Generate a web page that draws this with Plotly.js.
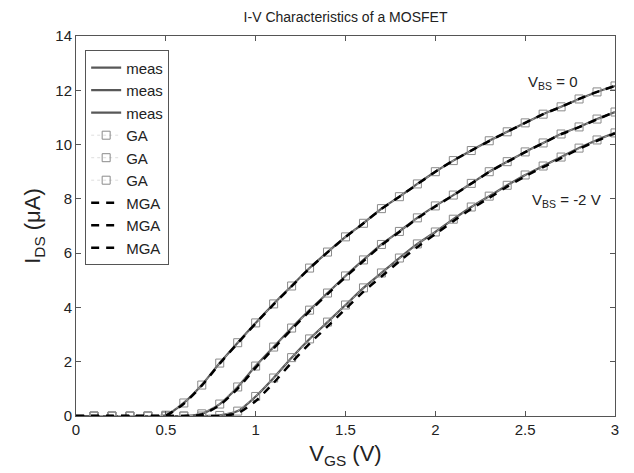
<!DOCTYPE html>
<html>
<head>
<meta charset="utf-8">
<script src="https://cdn.plot.ly/plotly-3.0.1.min.js"></script>
<style>html,body{margin:0;padding:0;background:#fff;}#chart{width:634px;height:473px;}</style>
</head>
<body>
<div id="chart"></div>
<script>
// Gate voltage (V)
var vgs = [0,0.1,0.2,0.3,0.4,0.5,0.6,0.7,0.8,0.9,1.0,1.1,1.2,1.3,1.4,1.5,1.6,1.7,1.8,1.9,2.0,2.1,2.2,2.3,2.4,2.5,2.6,2.7,2.8,2.9,3.0];

// Measured drain current (uA) for three body biases
var measVbs0  = [0,0,0,0,0,0.03,0.48,1.14,1.95,2.7,3.43,4.13,4.79,5.45,6.04,6.6,7.1,7.64,8.08,8.55,9.0,9.41,9.78,10.14,10.47,10.8,11.12,11.39,11.68,11.94,12.16];
var measVbs1  = [0,0,0,0,0,0,0,0.08,0.44,1.07,1.84,2.54,3.24,3.9,4.53,5.16,5.75,6.32,6.8,7.3,7.74,8.14,8.57,9.0,9.37,9.73,10.06,10.39,10.65,10.94,11.2];
var measVbs2  = [0,0,0,0,0,0,0,0,0.02,0.18,0.72,1.4,2.15,2.84,3.46,4.09,4.72,5.27,5.82,6.34,6.78,7.25,7.7,8.1,8.5,8.88,9.21,9.54,9.87,10.17,10.43];

// GA model (squares)
var gaVbs0 = [0,0,0,0,0,0.03,0.48,1.14,1.95,2.7,3.43,4.13,4.79,5.45,6.04,6.6,7.1,7.64,8.08,8.55,9.0,9.41,9.78,10.14,10.47,10.8,11.12,11.39,11.68,11.94,12.16];
var gaVbs1 = [0,0,0,0,0,0,0,0.08,0.44,1.07,1.84,2.54,3.24,3.9,4.53,5.16,5.75,6.32,6.8,7.3,7.74,8.14,8.57,9.0,9.37,9.73,10.06,10.39,10.65,10.94,11.2];
var gaVbs2 = [0,0,0,0,0,0,0,0,0.02,0.18,0.72,1.4,2.15,2.84,3.46,4.09,4.72,5.27,5.82,6.34,6.78,7.25,7.7,8.1,8.5,8.88,9.21,9.54,9.87,10.17,10.43];

// MGA model (dashed)
var mgaVbs0 = [0,0,0,0,0,0.02,0.45,1.12,1.93,2.68,3.41,4.11,4.78,5.44,6.03,6.59,7.1,7.63,8.08,8.54,9.0,9.41,9.78,10.13,10.47,10.8,11.12,11.39,11.68,11.94,12.16];
var mgaVbs1 = [0,0,0,0,0,0,0,0.05,0.4,1.01,1.78,2.49,3.19,3.86,4.49,5.12,5.71,6.29,6.78,7.28,7.72,8.13,8.56,8.99,9.36,9.72,10.05,10.38,10.64,10.93,11.2];
var mgaVbs2 = [0,0,0,0,0,0,0,0,0,0.1,0.55,1.22,1.97,2.67,3.3,3.94,4.58,5.14,5.7,6.23,6.7,7.18,7.63,8.04,8.45,8.83,9.17,9.5,9.84,10.14,10.41];

var xTicks = [0,0.5,1,1.5,2,2.5,3];
var yTicks = [0,2,4,6,8,10,12,14];

var FONT = 'Liberation Sans, Arial, Helvetica, sans-serif';
var traces = [];
[measVbs0, measVbs1, measVbs2].forEach(function(ys){
  traces.push({x: vgs, y: ys, type: 'scatter', mode: 'lines', name: 'meas',
    line: {color: '#585858', width: 2.2, shape: 'spline', smoothing: 0.6}});
});
[gaVbs0, gaVbs1, gaVbs2].forEach(function(ys){
  traces.push({x: vgs.slice(1), y: ys.slice(1), type: 'scatter', mode: 'lines+markers', name: 'GA',
    line: {color: '#c8c8c8', width: 0.6, dash: 'dot'},
    marker: {symbol: 'square-open', size: 8, color: '#8a8a8a', line: {width: 1, color: '#8a8a8a'}}});
});
[mgaVbs0, mgaVbs1, mgaVbs2].forEach(function(ys){
  traces.push({x: vgs, y: ys, type: 'scatter', mode: 'lines', name: 'MGA',
    line: {color: '#000000', width: 2.5, dash: '8px,7px', shape: 'spline', smoothing: 0.6}});
});

var layout = {
  width: 634, height: 473,
  margin: {l: 76, r: 19, t: 36, b: 57},
  paper_bgcolor: '#ffffff', plot_bgcolor: '#ffffff',
  font: {family: FONT, color: '#222'},
  title: {text: 'I-V Characteristics of a MOSFET', font: {size: 14, color: '#222', family: FONT},
    x: 0.545, xanchor: 'center', y: 0.964, yanchor: 'middle'},
  showlegend: true,
  legend: {x: 0.017, y: 0.962, xanchor: 'left', yanchor: 'top', bgcolor: '#ffffff',
    bordercolor: '#555', borderwidth: 1, font: {size: 15, family: FONT, color: '#222'},
    tracegroupgap: 0},
  xaxis: {range: [0, 3], tickvals: xTicks, ticktext: xTicks.map(String), ticks: 'inside', ticklen: 5,
    tickcolor: '#555', showline: true, linecolor: '#555', linewidth: 1, mirror: 'ticks',
    showgrid: false, zeroline: false, tickfont: {size: 15, color: '#222'},
    title: {text: 'V<sub>GS</sub> (V)', font: {size: 22, color: '#222'}, standoff: 8}},
  yaxis: {range: [0, 14], tickvals: yTicks, ticktext: yTicks.map(String), ticks: 'inside', ticklen: 5,
    tickcolor: '#555', showline: true, linecolor: '#555', linewidth: 1, mirror: 'ticks',
    showgrid: false, zeroline: false, tickfont: {size: 15, color: '#222'},
    title: {text: 'I<sub>DS</sub> (μA)', font: {size: 22, color: '#222'}, standoff: 8}},
  annotations: [
    {x: 2.65, y: 12.3, xref: 'x', yref: 'y', text: 'V<sub>BS</sub> = 0', showarrow: false,
      font: {size: 15, color: '#222'}, xanchor: 'center', yanchor: 'middle'},
    {x: 2.73, y: 7.95, xref: 'x', yref: 'y', text: 'V<sub>BS</sub> = -2 V', showarrow: false,
      font: {size: 15, color: '#222'}, xanchor: 'center', yanchor: 'middle'}
  ]
};

Plotly.newPlot('chart', traces, layout, {displayModeBar: false, staticPlot: true});
</script>
</body>
</html>
